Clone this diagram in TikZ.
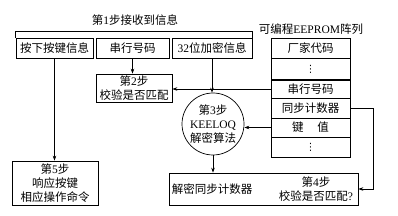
\documentclass[tikz,border=0pt]{standalone}
\usepackage{fontspec}
\setmainfont{Liberation Serif}
\newfontfamily\cjk{Noto Sans CJK SC}
\newfontfamily\sym{DejaVu Sans}
\newcommand\cj[1]{{\cjk #1}}
\usetikzlibrary{arrows.meta}
\begin{document}
\begin{tikzpicture}[x=1pt,y=-1pt,
  font=\fontsize{11.5}{14}\selectfont,
  box/.style={draw, line width=0.7pt, inner sep=0pt, align=center},
  cell/.style={draw, line width=0.7pt, minimum width=79pt, inner sep=0pt},
  lbl/.style={inner sep=0pt, align=center},
  arr/.style={-{Stealth[length=5pt,width=3.5pt]}, line width=0.6pt},
  ln/.style={line width=0.6pt}]
\useasboundingbox[fill=white] (0,0) rectangle (398,216);

% step 1 title and boxes
\node[lbl] (t1) at (135,20) {\cj{第}1\cj{步接收到信息}};
\node[box, minimum width=77pt, minimum height=20pt] (k1) at (54.5,48.5) {\cj{按下按键信息}};
\node[box, minimum width=73pt, minimum height=20pt] (k2) at (132.5,48.5) {\cj{串行号码}};
\node[box, minimum width=80pt, minimum height=20pt] (k3) at (212,48.5) {32\cj{位加密信息}};
\draw[ln] (k1.north west) -- ++(0,-6.5) -| (k3.north east);

% EEPROM
\node[lbl] (et) at (311,29) {\cj{可编程}EEPROM\cj{阵列}};
\node[cell, minimum height=20pt] (c1) at (310.5,48.5) {\cj{厂家代码}};
\node[cell, minimum height=21pt, font=\sym\fontsize{10}{10}\selectfont] (c2) at (310.5,69) {⋮};
\node[cell, minimum height=18pt] (c3) at (310.5,89) {\cj{串行号码}};
\node[cell, minimum height=20pt] (c4) at (310.5,108) {\cj{同步计数器}};
\node[cell, minimum height=19pt] (c5) at (310.5,127.5) {\cj{键}\hspace{1.2em}\cj{值}};
\node[cell, minimum height=20pt, font=\sym\fontsize{10}{10}\selectfont] (c6) at (310.5,147) {⋮};

% step 2
\node[box, minimum width=76pt, minimum height=28pt] (s2) at (134,88) {\cj{第}2\cj{步}\\\cj{校验是否匹配}};

% step 3
\node[draw, circle, line width=0.7pt, minimum size=62pt, inner sep=0pt, align=center] (circ) at (213,124)
  {\cj{第}3\cj{步}\\KEELOQ\\\cj{解密算法}};

% bottom box
\node[box, minimum width=189pt, minimum height=32pt] (bot) at (263.5,189) {};
\node[lbl] (bt1) at (212,189) {\cj{解密同步计数器}};
\node[lbl] (bt2) at (316,189) {\cj{第}4\cj{步}\\\cj{校验是否匹配}?};

% step 5
\node[box, minimum width=86pt, minimum height=44pt] (s5) at (55,183) {\cj{第}5\cj{步}\\\cj{响应按键}\\\cj{相应操作命令}};

% connectors
\draw[arr] (k1.south) -- (k1.south |- s5.north);
\draw[arr] (k2.south) -- (k2.south |- s2.north);
\draw[arr] (c3.west) -- (c3.west -| s2.east);
\draw[arr] (k3.south) -- (k3.south |- circ.north);
\draw[arr] (c5.west) -- (c5.west -| circ.east);
\draw[arr] (circ.south) -- (circ.south |- bot.north);
\draw[arr] (c4.east) -- ++(23,0) |- (bot.east);
\end{tikzpicture}
\end{document}
